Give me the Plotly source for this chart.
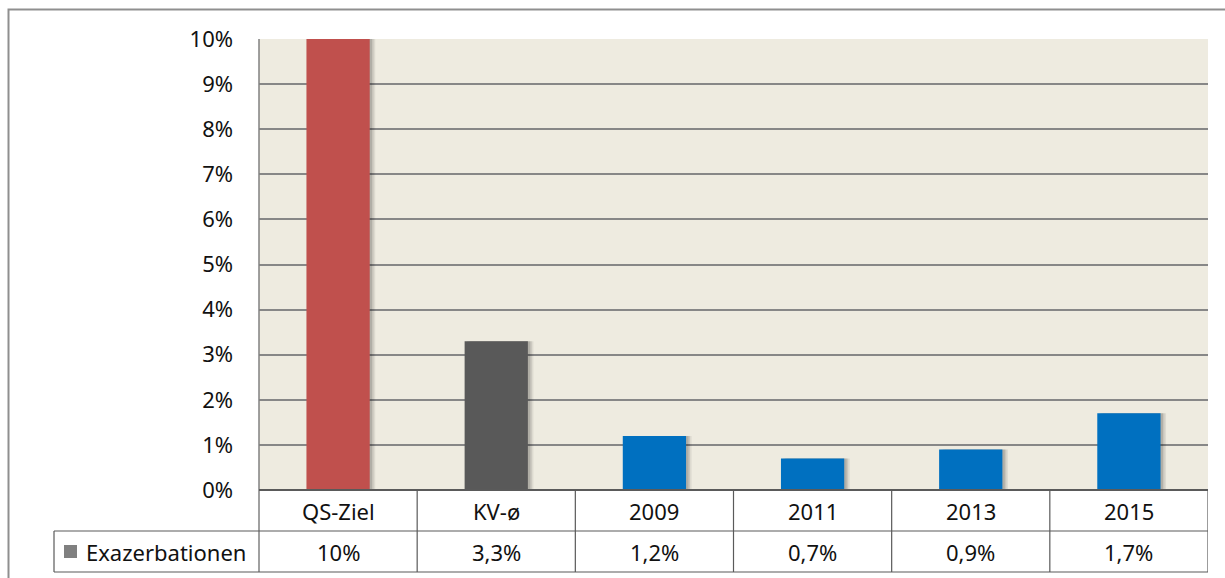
import plotly.graph_objects as go

categories = ["QS-Ziel", "KV-ø", "2009", "2011", "2013", "2015"]
values = [10, 3.3, 1.2, 0.7, 0.9, 1.7]
bar_colors = ["#C0504D", "#595959", "#0070C0", "#0070C0", "#0070C0", "#0070C0"]
series_name = "Exazerbationen"
y_ticks = list(range(0, 11))
y_tick_labels = [f"{t}%" for t in y_ticks]


def fmt(v):
    if float(v).is_integer():
        return f"{int(v)}%"
    return f"{v:.1f}".replace(".", ",") + "%"


value_labels = [fmt(v) for v in values]

W, H = 1225, 578
L, R, T, B = 259, 17, 39, 88
plot_h = H - T - B
plot_w = W - L - R


def py(pix):
    return (H - B - pix) / plot_h


def px(pix):
    return (pix - L) / plot_w


FONT = "Noto Sans"
FS = 22
TXT = "#111111"
LINE = "#5a5a5a"
xs = list(range(len(categories)))

fig = go.Figure()

# soft shadows behind bars
for off, op in [(0.035, 0.07), (0.025, 0.09), (0.015, 0.12)]:
    fig.add_trace(go.Bar(
        x=xs, y=values, width=0.4, offset=-0.2 + off,
        marker=dict(color=f"rgba(0,0,0,{op})", line=dict(width=0)),
        hoverinfo="skip", showlegend=False,
    ))

fig.add_trace(go.Bar(
    x=xs, y=values, width=0.4, offset=-0.2,
    marker=dict(color=bar_colors, line=dict(width=0)),
    name=series_name, showlegend=False,
))

fig.update_layout(
    width=W, height=H,
    margin=dict(l=L, r=R, t=T, b=B, autoexpand=False),
    paper_bgcolor="white",
    plot_bgcolor="#EEEBE0",
    barmode="overlay",
    font=dict(family=FONT, size=FS, color=TXT),
    xaxis=dict(range=[-0.5, 5.5], showticklabels=False, showgrid=False,
               zeroline=False, showline=False, fixedrange=True),
    yaxis=dict(range=[0, 10], tickvals=y_ticks, ticktext=y_tick_labels,
               showgrid=True, gridcolor="#878787", gridwidth=1.5,
               zeroline=False, showline=False, ticks="",
               ticklabelstandoff=25, fixedrange=True,
               tickfont=dict(family=FONT, size=FS, color=TXT)),
)

shapes = []
# outer chart border (left and top)
shapes.append(dict(type="path", xref="paper", yref="paper",
                   path=f"M {px(8.5)} {py(H + 5)} L {px(8.5)} {py(9.5)} L {px(W + 5)} {py(9.5)}",
                   line=dict(color="#8f8f8f", width=2)))
# plot left edge line
shapes.append(dict(type="line", xref="paper", yref="paper",
                   x0=0, x1=0, y0=1, y1=py(572), line=dict(color="#808080", width=1.5)))
# zero / table top line
shapes.append(dict(type="line", xref="paper", yref="paper",
                   x0=0, x1=1, y0=0, y1=0, line=dict(color=LINE, width=2)))
# table horizontal lines
shapes.append(dict(type="line", xref="paper", yref="paper",
                   x0=px(54), x1=1, y0=py(531), y1=py(531), line=dict(color=LINE, width=1.2)))
shapes.append(dict(type="line", xref="paper", yref="paper",
                   x0=px(54), x1=1, y0=py(572), y1=py(572), line=dict(color=LINE, width=1.2)))
# legend cell left edge
shapes.append(dict(type="line", xref="paper", yref="paper",
                   x0=px(54), x1=px(54), y0=py(531), y1=py(572), line=dict(color=LINE, width=1.2)))
# category dividers
for i in xs:
    shapes.append(dict(type="line", xref="x", yref="paper",
                       x0=i + 0.5, x1=i + 0.5, y0=0, y1=py(572),
                       line=dict(color=LINE, width=1.2)))
# legend key square
shapes.append(dict(type="rect", xref="paper", yref="paper",
                   x0=px(64), x1=px(77), y0=py(545), y1=py(558),
                   fillcolor="#808080", line=dict(width=0)))
fig.update_layout(shapes=shapes)

annotations = []
for i, (c, v) in enumerate(zip(categories, value_labels)):
    annotations.append(dict(x=i, y=py(511), xref="x", yref="paper", text=c,
                            showarrow=False, xanchor="center", yanchor="middle",
                            font=dict(family=FONT, size=FS, color=TXT)))
    annotations.append(dict(x=i, y=py(552), xref="x", yref="paper", text=v,
                            showarrow=False, xanchor="center", yanchor="middle",
                            font=dict(family=FONT, size=FS, color=TXT)))
annotations.append(dict(x=px(84), y=py(552), xref="paper", yref="paper", text=series_name,
                        showarrow=False, xanchor="left", yanchor="middle",
                        font=dict(family=FONT, size=FS, color=TXT)))
fig.update_layout(annotations=annotations)

fig.write_html("out.html", config={"displayModeBar": False},
               post_script="document.body.style.margin='0';document.body.style.padding='0';")
